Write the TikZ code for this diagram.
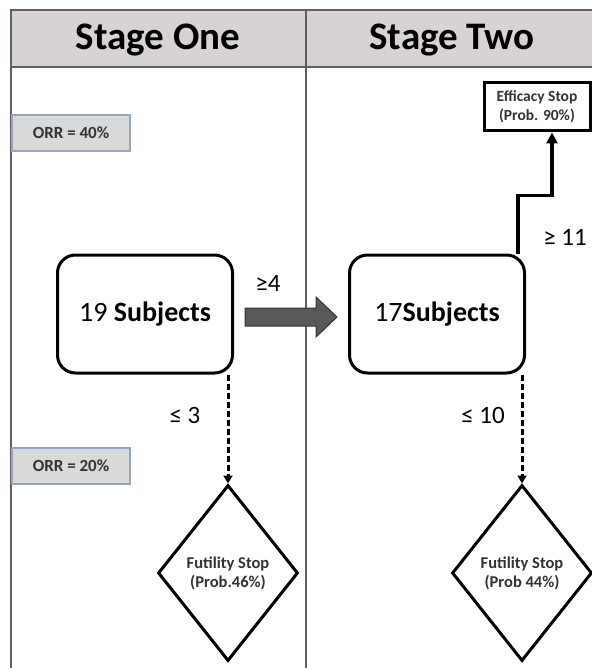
\documentclass[tikz,border=0pt]{standalone}
\usepackage{fontspec}
\setmainfont{Carlito}
\usepackage{tikz}
\usetikzlibrary{shapes.geometric,calc,arrows.meta}
\definecolor{hdrgray}{RGB}{216,210,213}
\definecolor{framegray}{RGB}{95,95,95}
\definecolor{orrfill}{RGB}{217,217,217}
\definecolor{orrline}{RGB}{150,165,188}
\definecolor{bigarrow}{RGB}{89,89,89}
\definecolor{softtext}{RGB}{50,50,50}

\begin{document}
\begin{tikzpicture}[x=1pt,y=-1pt,
  frame/.style={line width=1.5pt, color=framegray},
  stagehead/.style={font=\fontsize{39}{42}\selectfont\bfseries},
  orrbox/.style={draw=orrline, fill=orrfill, line width=1.5pt, minimum width=118pt, minimum height=36pt,
    inner sep=0pt, text=softtext, font=\fontsize{17}{20}\selectfont\bfseries},
  subjbox/.style={draw, rounded corners=18pt, line width=3pt, minimum width=175pt, minimum height=118pt,
    font=\fontsize{28}{30}\selectfont},
  effbox/.style={draw, line width=3pt, minimum width=106pt, minimum height=48pt, inner sep=0pt, align=center,
    text=softtext, font=\fontsize{15.5}{19}\selectfont\bfseries},
  futbox/.style={draw, diamond, aspect=0.8, line width=3pt, minimum width=140pt, minimum height=176pt,
    inner sep=0pt, align=center, text=softtext, font=\fontsize{16.5}{19}\selectfont\bfseries},
  dasharr/.style={line width=3pt, dash pattern=on 6pt off 3pt, -{Triangle[width=9pt,length=8pt]}},
  effarr/.style={line width=3.5pt, -{Triangle[width=11pt,length=11pt]}},
  cond/.style={font=\fontsize{25}{27}\selectfont}]
  \useasboundingbox (0,0) rectangle (591,668);
  \fill[hdrgray] (11,10) rectangle (595,67); % header row
  \draw[frame] (595,10) -- (11,10) -- (11,672);
  \draw[frame] (11,67) -- (595,67);
  \draw[frame] (306,10) -- (306,672); % stage divider
  \node[stagehead] (hdrone) at (158,40) {Stage One};
  \node[stagehead] (hdrtwo) at (452,40) {Stage Two};

  \node[orrbox] (orrhi) at (71,133) {ORR = 40\%};
  \node[orrbox] (orrlo) at (71,466) {ORR = 20\%};

  \node[subjbox] (subjone) at (145,314) {19 \textbf{Subjects}};
  \node[subjbox] (subjtwo) at (437,314) {17\textbf{Subjects}};
  \node[effbox] (effstop) at (537,107) {Efficacy Stop\\(Prob. 90\%)};
  \node[futbox] (futone) at (228,573) {Futility Stop\\(Prob.46\%)};
  \node[futbox] (futtwo) at (522,573) {Futility Stop\\(Prob 44\%)};

  % go on to stage two
  \fill[bigarrow, draw=black!80, line width=1pt] ($(subjone.east)+(11,-6)$) -- ++(71,0) -- ++(0,-11)
    -- ++(21,20) -- ++(-21,20) -- ++(0,-11) -- ++(-71,0) -- cycle;
  \node[cond] (gefour) at (268,283) {≥4};

  % stop early
  \draw[dasharr] (subjone.south -| futone.north) -- (futone.north);
  \node[cond] (lethree) at (185,415) {≤ 3};
  \draw[dasharr] (subjtwo.south -| futtwo.north) -- (futtwo.north);
  \node[cond] (leten) at (483,415) {≤ 10};

  % efficacy
  \draw[effarr] ($(subjtwo.north east)+(-8,0)$) -- ++(0,-58) -| ($(effstop.south)+(15,0)$);
  \node[cond] (geeleven) at (565,237) {≥ 11};
\end{tikzpicture}
\end{document}
